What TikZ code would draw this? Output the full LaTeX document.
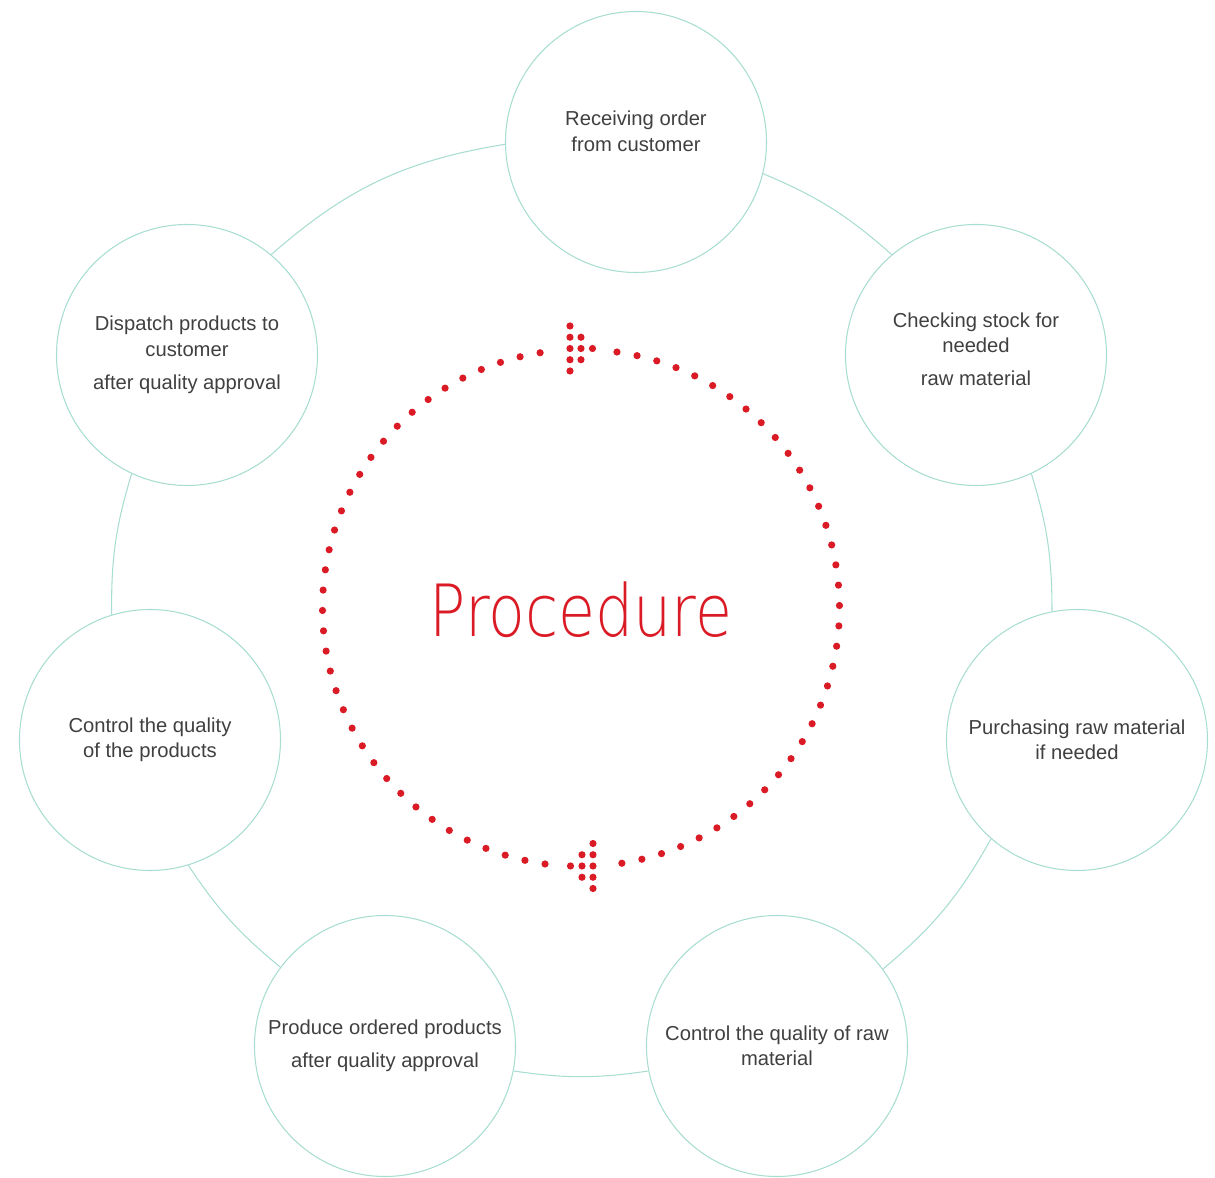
\documentclass[tikz,border=0pt]{standalone}
\usepackage{fontspec}
\setmainfont{Liberation Sans}
\newfontfamily\thinfont{DejaVu Sans ExtraLight}
\usepackage{tikz}
\definecolor{ringteal}{HTML}{A8DDD1}
\definecolor{procred}{HTML}{DA1A25}
\definecolor{txtgray}{HTML}{404040}

\begin{document}
\begin{tikzpicture}[
    stage/.style={circle,draw=ringteal,line width=.6pt,fill=white,minimum size=5.22cm,inner sep=0pt,
      align=center,text=txtgray,font=\fontsize{11.5}{14.5}\selectfont},
    link/.style={draw=ringteal,line width=.6pt},
    reddot/.style={fill=procred}
  ]
  \useasboundingbox (-11.62,-11.40) rectangle (12.68,12.16);

  \coordinate (hub) at(0,0);
  \node[text=procred,font=\thinfont\fontsize{41}{41}\selectfont,xscale=.835,transform shape] at(0,-.04)(title){Procedure};

  \node[stage,text depth=12.5pt] at(1.10,9.32)(rcv){Receiving order\\from customer};
  \node[stage,text depth=6.8pt] at(7.90,5.06)(chk){Checking stock for\\needed\\[4.3pt]raw material};
  \node[stage] at(9.92,-2.64)(pur){Purchasing raw material\\if needed};
  \node[stage] at(3.92,-8.76)(qraw){Control the quality of raw\\material};
  \node[stage] at(-3.92,-8.76)(prd){Produce ordered products\\[4.3pt]after quality approval};
  \node[stage] at(-8.62,-2.64)(qprod){Control the quality\\of the products};
  \node[stage] at(-7.88,5.06)(dsp){Dispatch products to\\customer\\[4.3pt]after quality approval};

  \draw[link] (rcv.-14.4) to[bend left=9.35] (chk.130.2);
  \draw[link] (chk.-65) to[bend left=8.5] (pur.101.4);
  \draw[link] (pur.-131.2) to[bend left=10.35] (qraw.36.3);
  \draw[link] (qraw.191.9) to[bend left=8.3] (prd.-11.9);
  \draw[link] (prd.143.7) to[bend left=8.45] (qprod.-73.2);
  \draw[link] (qprod.107.3) to[bend left=8.75] (dsp.-115.5);
  \draw[link] (dsp.50.1) to[bend left=16] (rcv.181);

  \foreach \i in {0,...,36}{
    \fill[reddot,shift={(hub)}] (82-4.525*\i:5.17) circle (.072);
    \fill[reddot,shift={(hub)}] (99.1+4.525*\i:5.17) circle (.072);
  }

  \foreach \dx/\dy in {-.22/.45,-.22/.225,-.22/0,-.22/-.225,-.22/-.45,0/.225,0/0,0/-.225,.23/0}{
    \fill[reddot,shift={(0,5.19)}] (\dx,\dy) circle (.072);
    \fill[reddot,shift={(.02,-5.16)},xscale=-1] (\dx,\dy) circle (.072);
  }

\end{tikzpicture}
\end{document}
